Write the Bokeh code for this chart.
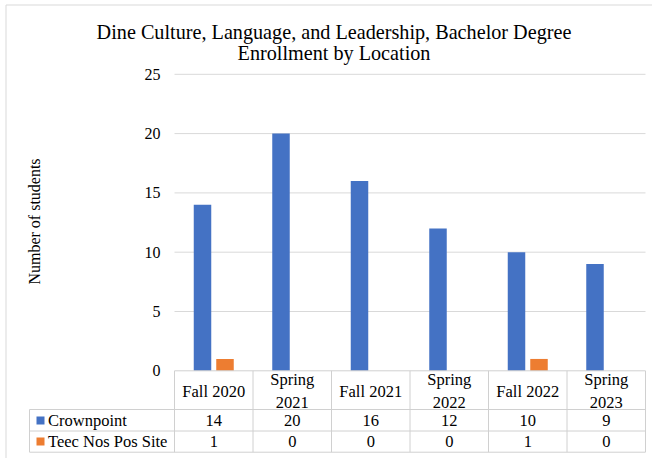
import math
from bokeh.plotting import figure
from bokeh.models import Range1d, ColumnDataSource
from bokeh.core.properties import value
from bokeh.embed import file_html
from bokeh.resources import INLINE

# ---------------- data ----------------
categories = ["Fall 2020", "Spring 2021", "Fall 2021", "Spring 2022", "Fall 2022", "Spring 2023"]
header_labels = ["Fall 2020", "Spring\n2021", "Fall 2021", "Spring\n2022", "Fall 2022", "Spring\n2023"]
series_names = ["Crownpoint", "Teec Nos Pos Site"]
crownpoint = [14, 20, 16, 12, 10, 9]
teec_nos_pos = [1, 0, 0, 0, 1, 0]
y_ticks = [0, 5, 10, 15, 20, 25]
title_lines = ["Dine Culture, Language, and Leadership, Bachelor Degree", "Enrollment by Location"]
y_label = "Number of students"
colors = ["#4472C4", "#ED7D31"]

# ---------------- geometry (page pixels) ----------------
PAGE_OFF = 0
W, H = 652, 458
COL_LEFT = 174.0     # page x of the first category column
COL_W = 78.5         # page px per category
Y0 = 370.3           # page y of value 0
UNIT = 11.86         # page px per student

def dx(px):
    return (px - COL_LEFT) / COL_W

def dy(py):
    return (Y0 - py) / UNIT

FONT = value("Liberation Serif")
GRID = "#D9D9D9"
TABLE = "#D0D0D0"
TXT = "#000000"

p = figure(width=W, height=H, output_backend="svg", toolbar_location=None,
           x_range=Range1d(dx(PAGE_OFF), dx(PAGE_OFF + W)),
           y_range=Range1d(dy(PAGE_OFF + H), dy(PAGE_OFF)),
           x_axis_type=None, y_axis_type=None, min_border=0)
p.grid.visible = False
p.outline_line_color = None
p.background_fill_color = "white"
p.border_fill_color = "white"

n = len(categories)
n_cols = float(n)

# outer chart border (left and top visible in the reference)
p.segment(x0=[dx(5.5), dx(5.5)], x1=[dx(5.5), dx(652)],
          y0=[dy(4.5), dy(4.5)], y1=[dy(458), dy(4.5)],
          line_color=GRID, line_width=1)

# gridlines (excluding 0)
gt = [t for t in y_ticks if t > 0]
p.segment(x0=[0] * len(gt), x1=[n_cols] * len(gt), y0=gt, y1=gt,
          line_color=GRID, line_width=1)

# bars
bar_w = 17.5 / COL_W
off = 11.25 / COL_W
xs = [i + 0.5 for i in range(n)]
src = ColumnDataSource(dict(
    xb=[x - off for x in xs], xo=[x + off for x in xs],
    cp=crownpoint, tn=teec_nos_pos))
p.vbar(x="xb", top="cp", bottom=0, width=bar_w, source=src,
       fill_color=colors[0], line_color=None)
p.vbar(x="xo", top="tn", bottom=0, width=bar_w, source=src,
       fill_color=colors[1], line_color=None)

# y tick labels
p.text(x=[dx(160)] * len(y_ticks), y=y_ticks, text=[str(t) for t in y_ticks],
       text_font=FONT, text_font_size="16px", text_color=TXT,
       text_align="right", text_baseline="middle")

# y axis label
p.text(x=[dx(34)], y=[dy(221)], text=[y_label], angle=math.pi / 2,
       text_font=FONT, text_font_size="16px", text_color=TXT,
       text_align="center", text_baseline="middle")

# title
title_baselines = [31.7, 52.5]
p.text(x=[dx(333.5)] * len(title_lines), y=[dy(b) for b in title_baselines],
       text=title_lines, text_font=FONT, text_font_size="20.2px", text_color=TXT,
       text_align="center", text_baseline="alphabetic")

# ---------------- data table ----------------
row_bounds = [409.0, 430.5, 451.7]
left_x = dx(29)
# axis / table top
p.segment(x0=[0], x1=[n_cols], y0=[0], y1=[0], line_color=TABLE, line_width=1)
p.segment(x0=[left_x] * 3, x1=[n_cols] * 3, y0=[dy(r) for r in row_bounds],
          y1=[dy(r) for r in row_bounds], line_color=TABLE, line_width=1)
p.segment(x0=list(range(n + 1)), x1=list(range(n + 1)), y0=[0] * (n + 1),
          y1=[dy(row_bounds[-1])] * (n + 1), line_color=TABLE, line_width=1)
p.segment(x0=[left_x], x1=[left_x], y0=[dy(row_bounds[0])], y1=[dy(row_bounds[-1])],
          line_color=TABLE, line_width=1)

# header
p.text(x=xs, y=[dy(390.5)] * n, text=header_labels, text_font=FONT,
       text_font_size="16.5px", text_color=TXT, text_align="center",
       text_baseline="middle", text_line_height=1.17)

# rows
row_centers = [420.0, 441.0]
for r, (name, vals) in enumerate(zip(series_names, [crownpoint, teec_nos_pos])):
    yc = dy(row_centers[r])
    p.text(x=xs, y=[yc] * n, text=[str(v) for v in vals], text_font=FONT,
           text_font_size="16.5px", text_color=TXT, text_align="center",
           text_baseline="middle")
    p.scatter(x=[dx(40)], y=[yc], marker="square", size=8,
              fill_color=colors[r], line_color=None)
    p.text(x=[dx(47.5)], y=[yc], text=[name], text_font=FONT,
           text_font_size="16.5px", text_color=TXT, text_align="left",
           text_baseline="middle")

open("out.html", "w").write(file_html(p, INLINE))
